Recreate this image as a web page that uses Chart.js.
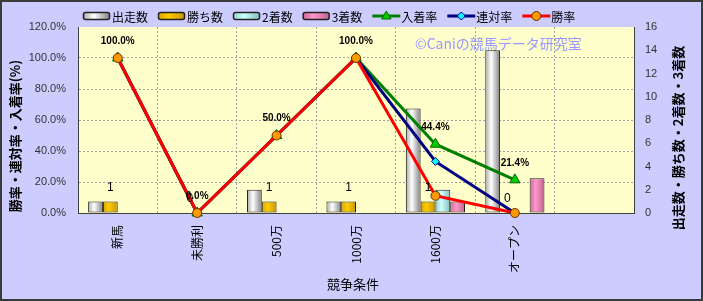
<!DOCTYPE html>
<html>
<head>
<meta charset="utf-8">
<script src="https://cdn.jsdelivr.net/npm/chart.js@4/dist/chart.umd.min.js"></script>
<style>
body{margin:0;background:#ccccff;}
#caixa{width:703px;height:301px;position:relative;}
</style>
</head>
<body>
<div id="caixa"><canvas id="grafico"></canvas></div>
<script>
// dados do grafico
var categorias = ['新馬', '未勝利', '500万', '1000万', '1600万', 'オープン', ''];
var shussou = [1, 0, 2, 1, 9, 14, null];      // 出走数
var kachi = [1, 0, 1, 1, 1, 0, null];         // 勝ち数
var nichaku = [0, 0, 0, 0, 2, 0, null];       // 2着数
var sanchaku = [0, 0, 0, 0, 1, 3, null];      // 3着数
var nyuchaku = [100, 0, 50, 100, 44.4, 21.4, null]; // 入着率 (%)
var rentai = [100, 0, 50, 100, 33.3, 0, null];      // 連対率 (%)
var shoritsu = [100, 0, 50, 100, 11.1, 0, null];    // 勝率 (%)
var ticksEsq = [0, 20, 40, 60, 80, 100, 120];
var ticksDir = [0, 2, 4, 6, 8, 10, 12, 14, 16];

var FONTE = "'Liberation Sans', 'Noto Sans CJK JP', sans-serif";
var FONTE_JP = "'Noto Sans CJK JP', sans-serif";
var CAT_PCT = 0.745;

// gradiente horizontal de cada barra
function gradiente(pos, borda1, meio, borda2) {
    return function (c) {
        var chart = c.chart;
        var area = chart.chartArea;
        if (!area || c.dataIndex === undefined || !chart.scales.x) return meio;
        var larg = (area.right - area.left) / categorias.length * CAT_PCT;
        var w = larg / 4;
        var x0 = chart.scales.x.getPixelForValue(c.dataIndex) - larg / 2 + w * pos;
        var g = chart.ctx.createLinearGradient(x0, 0, x0 + w, 0);
        g.addColorStop(0, borda1);
        g.addColorStop(0.4, meio);
        g.addColorStop(1, borda2);
        return g;
    };
}

var cores = {
    branco: ['#a8a8a8', '#ffffff', '#808080'],
    ouro: ['#d9a300', '#ffcc00', '#c79500'],
    ciano: ['#99cccc', '#ccffff', '#88bbbb'],
    rosa: ['#cc6699', '#ff99cc', '#c0608f']
};

function barra(nome, dados, pos, cor) {
    return {
        type: 'bar', label: nome, data: dados, yAxisID: 'y1', order: 10 + pos,
        backgroundColor: gradiente(pos, cor[0], cor[1], cor[2]),
        borderColor: '#222', borderWidth: 1, borderSkipped: false,
        categoryPercentage: CAT_PCT, barPercentage: 1
    };
}

function linha(nome, dados, ordem, cor, estilo, raio, preench, borda) {
    return {
        type: 'line', label: nome, data: dados, yAxisID: 'y', order: ordem,
        borderColor: cor, borderWidth: 3, pointStyle: estilo, pointRadius: raio,
        pointBackgroundColor: preench, pointBorderColor: borda, pointBorderWidth: 1,
        tension: 0, clip: false, spanGaps: false
    };
}

// desenha um marcador (legenda)
function marcador(ctx, estilo, x, y, r, preench, borda) {
    ctx.beginPath();
    if (estilo == 'circle') {
        ctx.arc(x, y, r, 0, Math.PI * 2);
    } else if (estilo == 'triangle') {
        ctx.moveTo(x, y - r);
        ctx.lineTo(x + r * 0.95, y + r * 0.6);
        ctx.lineTo(x - r * 0.95, y + r * 0.6);
        ctx.closePath();
    } else {
        ctx.moveTo(x, y - r);
        ctx.lineTo(x + r, y);
        ctx.lineTo(x, y + r);
        ctx.lineTo(x - r, y);
        ctx.closePath();
    }
    ctx.fillStyle = preench;
    ctx.fill();
    ctx.lineWidth = 1;
    ctx.strokeStyle = borda;
    ctx.stroke();
}

var legenda = [
    { t: '出走数', cor: cores.branco },
    { t: '勝ち数', cor: cores.ouro },
    { t: '2着数', cor: cores.ciano },
    { t: '3着数', cor: cores.rosa },
    { t: '入着率', linha: '#008000', est: 'triangle', r: 5, p: '#00cc00', b: '#006600' },
    { t: '連対率', linha: '#000080', est: 'diamond', r: 4, p: '#00ffff', b: '#000080' },
    { t: '勝率', linha: '#ff0000', est: 'circle', r: 4.5, p: '#ff9900', b: '#663300' }
];

var extras = {
    id: 'extras',
    beforeDraw: function (chart) {
        var ctx = chart.ctx, a = chart.chartArea;
        ctx.save();
        ctx.fillStyle = '#ccccff';
        ctx.fillRect(0, 0, chart.width, chart.height);
        ctx.fillStyle = '#ffffcc';
        ctx.fillRect(a.left, a.top, a.right - a.left, a.bottom - a.top);
        ctx.restore();
    },
    beforeDatasetsDraw: function (chart) {
        var ctx = chart.ctx;
        ctx.save();
        ctx.font = '14px ' + FONTE_JP;
        ctx.fillStyle = '#9999ff';
        ctx.textBaseline = 'middle';
        ctx.fillText('©Caniの競馬データ研究室', 415, 44);
        ctx.restore();
    },
    afterDatasetsDraw: function (chart) {
        var ctx = chart.ctx;
        ctx.save();
        ctx.fillStyle = '#000';
        ctx.textAlign = 'center';
        ctx.textBaseline = 'middle';
        // numeros do 勝ち数
        ctx.font = '12px ' + FONTE;
        chart.getDatasetMeta(4).data.forEach(function (b, i) {
            if (kachi[i] == null) return;
            ctx.fillText(String(kachi[i]), b.x, b.y - 14);
        });
        // porcentagens do 入着率
        ctx.font = 'bold 10px ' + FONTE;
        chart.getDatasetMeta(0).data.forEach(function (p, i) {
            if (nyuchaku[i] == null) return;
            ctx.fillText(nyuchaku[i].toFixed(1) + '%', p.x, p.y - 17);
        });
        ctx.restore();
    },
    afterDraw: function (chart) {
        var ctx = chart.ctx;
        ctx.save();
        // titulos dos eixos
        ctx.fillStyle = '#000';
        ctx.textAlign = 'center';
        ctx.textBaseline = 'middle';
        ctx.font = 'bold 13px ' + FONTE_JP;
        ctx.save();
        ctx.translate(15, 136);
        ctx.rotate(-Math.PI / 2);
        ctx.fillText('勝率・連対率・入着率(%)', 0, 0);
        ctx.restore();
        ctx.save();
        ctx.translate(678, 138);
        ctx.rotate(-Math.PI / 2);
        ctx.fillText('出走数・勝ち数・2着数・3着数', 0, 0);
        ctx.restore();
        ctx.font = '13px ' + FONTE_JP;
        ctx.fillText('競争条件', 353, 284);

        // legenda
        var x = 83, y = 16;
        ctx.font = '12px ' + FONTE_JP;
        ctx.textAlign = 'left';
        legenda.forEach(function (it) {
            if (it.cor) {
                var g = ctx.createLinearGradient(x, 0, x + 27, 0);
                g.addColorStop(0, it.cor[0]);
                g.addColorStop(0.4, it.cor[1]);
                g.addColorStop(1, it.cor[2]);
                ctx.beginPath();
                ctx.roundRect(x + 0.5, y - 3.5, 26, 7, 2);
                ctx.fillStyle = g;
                ctx.fill();
                ctx.lineWidth = 1.5;
                ctx.strokeStyle = '#222';
                ctx.stroke();
            } else {
                ctx.beginPath();
                ctx.moveTo(x, y);
                ctx.lineTo(x + 28, y);
                ctx.lineWidth = 3;
                ctx.strokeStyle = it.linha;
                ctx.stroke();
                marcador(ctx, it.est, x + 14, y, it.r, it.p, it.b);
            }
            x += 29;
            ctx.fillStyle = '#000';
            ctx.fillText(it.t, x, y + 1);
            x += ctx.measureText(it.t).width + 10;
        });

        // moldura
        ctx.lineWidth = 2;
        ctx.strokeStyle = '#3a3a3a';
        ctx.strokeRect(1, 1, chart.width - 2, chart.height - 2);
        ctx.restore();
    }
};

Chart.defaults.font.family = FONTE;
Chart.defaults.color = '#333';

// sem linha de grade no topo (120%)
function corGrade(c) {
    if (c.tick && c.tick.value === ticksEsq[ticksEsq.length - 1]) return 'rgba(0,0,0,0)';
    return '#a0a0a0';
}

var grafico = new Chart(document.getElementById('grafico'), {
    type: 'bar',
    data: {
        labels: categorias,
        datasets: [
            linha('入着率', nyuchaku, 3, '#008000', 'triangle', 6, '#00cc00', '#006600'),
            linha('連対率', rentai, 2, '#000080', 'rectRot', 4, '#00ffff', '#000080'),
            linha('勝率', shoritsu, 1, '#ff0000', 'circle', 4.5, '#ff9900', '#663300'),
            barra('出走数', shussou, 0, cores.branco),
            barra('勝ち数', kachi, 1, cores.ouro),
            barra('2着数', nichaku, 2, cores.ciano),
            barra('3着数', sanchaku, 3, cores.rosa)
        ]
    },
    options: {
        responsive: true,
        maintainAspectRatio: false,
        animation: false,
        layout: { padding: { top: 27, left: 0, right: 0, bottom: 0 } },
        plugins: { legend: { display: false }, tooltip: { enabled: false } },
        scales: {
            x: {
                offset: true,
                grid: { offset: true, color: '#a0a0a0', drawTicks: false },
                border: { display: true, color: '#404040', width: 1, dash: [2, 2] },
                ticks: { minRotation: 90, maxRotation: 90, padding: 12, color: '#000', font: { size: 12, family: FONTE_JP } },
                afterFit: function (s) { s.height = 88; }
            },
            y: {
                position: 'left',
                min: ticksEsq[0], max: ticksEsq[ticksEsq.length - 1],
                grid: { color: corGrade, drawTicks: false },
                border: { display: true, color: '#404040', width: 1, dash: [2, 2] },
                ticks: { stepSize: ticksEsq[1] - ticksEsq[0], padding: 12, font: { size: 11 },
                    callback: function (v) { return v.toFixed(1) + '%'; } },
                afterFit: function (s) { s.width = 78; }
            },
            y1: {
                position: 'right',
                min: ticksDir[0], max: ticksDir[ticksDir.length - 1],
                grid: { drawOnChartArea: false, drawTicks: false },
                border: { display: true, color: '#404040', width: 1 },
                ticks: { stepSize: ticksDir[1] - ticksDir[0], padding: 11, font: { size: 11 } },
                afterFit: function (s) { s.width = 69; }
            }
        }
    },
    plugins: [extras]
});
</script>
</body>
</html>
